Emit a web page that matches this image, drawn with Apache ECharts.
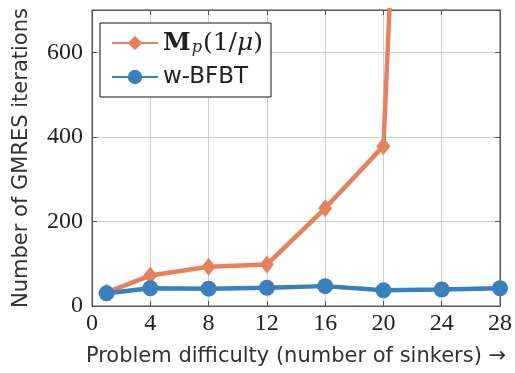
<!DOCTYPE html>
<html lang="en">
<head>
    <meta charset="UTF-8">
    <title>GMRES iterations</title>
    <script src="https://cdn.jsdelivr.net/npm/echarts@6/dist/echarts.min.js"></script>
    <style>
        html, body { margin: 0; padding: 0; background: #fff; }
    </style>
</head>
<body>
<div id="main" style="width: 515px; height: 373px;"></div>
<script>
    // sinkers on x, iterations on y
    var sinkers = [1, 4, 8, 12, 16, 20, 24];
    var mpIters = [32, 72, 93, 98, 231, 378, 3500];
    var bfbtSinkers = [1, 4, 8, 12, 16, 20, 24, 28];
    var bfbtIters = [30, 42, 41, 43, 47, 37, 39, 42];

    var mpName = 'Mp(1/μ)';
    var bfbtName = 'w-BFBT';

    var orange = '#e9805c';
    var blue = '#3a80bf';
    var frame = '#555';
    var serif = '"Liberation Serif", "DejaVu Serif", serif';
    var mathSerif = '"DejaVu Serif", serif';
    var sans = '"DejaVu Sans", sans-serif';

    function pairs(xs, ys) {
        return xs.map(function (x, i) { return [x, ys[i]]; });
    }

    var mychart = echarts.init(document.getElementById('main'));

    // extra axes only for the ticks on top and right
    var tickAxis = function (pos, isX) {
        return {
            type: 'value', position: pos, min: 0,
            max: isX ? 28 : 700, interval: isX ? 4 : 200,
            axisLine: { show: true, onZero: false, lineStyle: { color: frame, width: 1 } },
            axisTick: { show: true, inside: true, length: 5, lineStyle: { color: frame } },
            axisLabel: { show: false },
            splitLine: { show: false }
        };
    };

    mychart.setOption({
        animation: false,
        grid: { left: 92, right: 13, top: 10, bottom: 67, show: true, borderColor: frame, borderWidth: 1 },
        legend: {
            orient: 'vertical',
            left: 100, top: 23,
            padding: [7, 8, 7, 11],
            itemWidth: 46, itemHeight: 18, itemGap: 8,
            borderColor: '#111', borderWidth: 1,
            backgroundColor: '#fff',
            data: [mpName, bfbtName],
            formatter: function (name) {
                if (name === mpName) return '{b|M}{s|p}{n|(1/}{i|μ}{n|)}';
                return '{t|' + name + '}';
            },
            textStyle: {
                color: '#222',
                lineHeight: 26,
                rich: {
                    b: { fontFamily: mathSerif, fontWeight: 'bold', fontSize: 25, lineHeight: 26, color: '#222' },
                    s: { fontFamily: mathSerif, fontStyle: 'italic', fontSize: 16, lineHeight: 26, color: '#222', padding: [9, 1, 0, 1] },
                    n: { fontFamily: mathSerif, fontSize: 25, lineHeight: 26, color: '#222' },
                    i: { fontFamily: mathSerif, fontStyle: 'italic', fontSize: 25, lineHeight: 26, color: '#222' },
                    t: { fontFamily: sans, fontSize: 23, lineHeight: 26, color: '#222' }
                }
            }
        },
        xAxis: [{
            type: 'value', min: 0, max: 28, interval: 4,
            name: 'Problem difficulty (number of sinkers) →',
            nameLocation: 'middle', nameGap: 40,
            nameTextStyle: { fontFamily: sans, fontSize: 21, color: '#333' },
            axisLine: { show: true, onZero: false, lineStyle: { color: frame, width: 1 } },
            axisTick: { show: true, inside: true, length: 5, lineStyle: { color: frame } },
            axisLabel: { fontFamily: serif, fontSize: 24, color: '#222', margin: 6 },
            splitLine: { show: true, lineStyle: { color: '#cfcfcf', width: 1 } }
        }, tickAxis('top', true)],
        yAxis: [{
            type: 'value', min: 0, max: 700, interval: 200,
            name: 'Number of GMRES iterations',
            nameLocation: 'middle', nameGap: 60,
            nameTextStyle: { fontFamily: sans, fontSize: 21, color: '#333' },
            axisLine: { show: true, onZero: false, lineStyle: { color: frame, width: 1 } },
            axisTick: { show: true, inside: true, length: 5, lineStyle: { color: frame } },
            axisLabel: { fontFamily: serif, fontSize: 24, color: '#222', margin: 9, showMaxLabel: false },
            splitLine: { show: true, lineStyle: { color: '#cfcfcf', width: 1 } }
        }, tickAxis('right', false)],
        series: [{
            name: mpName,
            type: 'line',
            data: pairs(sinkers, mpIters),
            symbol: 'diamond', symbolSize: [14, 18],
            color: orange,
            lineStyle: { width: 4.5, color: orange },
            itemStyle: { color: orange },
            clip: true
        }, {
            name: bfbtName,
            type: 'line',
            data: pairs(bfbtSinkers, bfbtIters),
            symbol: 'circle', symbolSize: 16,
            color: blue,
            lineStyle: { width: 4.5, color: blue },
            itemStyle: { color: blue },
            clip: false
        }]
    });
</script>
</body>
</html>
